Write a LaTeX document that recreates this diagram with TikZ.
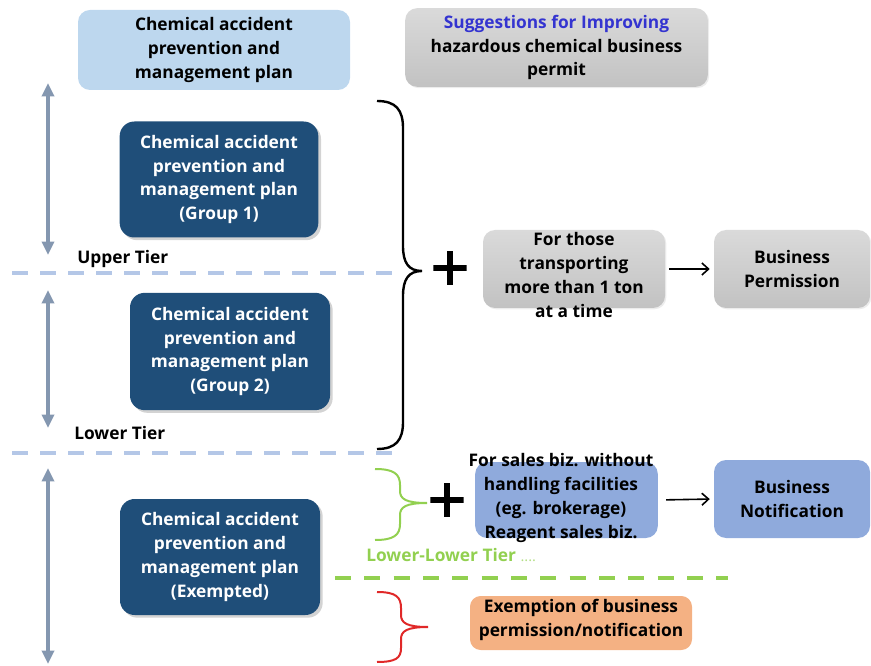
\documentclass[tikz,border=0pt]{standalone}
\usepackage{fontspec}
\setmainfont{Open Sans}
\usetikzlibrary{arrows.meta,shadows}
\definecolor{darkblue}{HTML}{1F4E79}
\definecolor{hdrblue}{HTML}{BDD7EE}
\definecolor{graytop}{HTML}{DADADA}
\definecolor{graybot}{HTML}{C2C2C2}
\definecolor{salesblue}{HTML}{8FAADC}
\definecolor{salmon}{HTML}{F4B183}
\definecolor{lgreen}{HTML}{92D050}
\definecolor{bred}{HTML}{E02828}
\definecolor{sugblue}{HTML}{3434D0}
\definecolor{tierarrow}{HTML}{8497B0}
\definecolor{dashblue}{HTML}{B4C7E7}
\begin{document}
\begin{tikzpicture}[x=0.75pt,y=-0.75pt,
  font=\bfseries\fontsize{13}{17.8}\selectfont,
  hdrbox/.style={fill=hdrblue, rounded corners=9pt, align=center, inner sep=0pt},
  graybox/.style={top color=graytop, bottom color=graybot, draw=none, rounded corners=9pt, align=center, inner sep=0pt,
     drop shadow={opacity=0.15, shadow xshift=1pt, shadow yshift=-1pt}},
  darkbox/.style={fill=darkblue, rounded corners=11pt, text=white, align=center, inner sep=0pt,
     minimum width=149pt, minimum height=87pt,
     drop shadow={opacity=0.35, shadow xshift=2pt, shadow yshift=-2pt}},
  bluebox/.style={fill=salesblue, rounded corners=9pt, align=center, inner sep=0pt},
  txt/.style={align=center, inner sep=0pt},
  tierarr/.style={draw=tierarrow, line width=2.6pt, {Triangle[length=10pt,width=9pt]}-{Triangle[length=10pt,width=9pt]}},
  tierdash/.style={draw=dashblue, line width=3pt, dash pattern=on 12pt off 9pt},
  greendash/.style={draw=lgreen, line width=3.5pt, dash pattern=on 12pt off 10pt},
  flowarr/.style={draw=black, line width=1.2pt, -{Straight Barb[length=5pt,width=9pt]}},
  plussign/.style={minimum size=25pt, inner sep=0pt,
     path picture={\draw[line width=3.8pt] (path picture bounding box.north) -- (path picture bounding box.south)
                    (path picture bounding box.west) -- (path picture bounding box.east);}}
]
\useasboundingbox (0,0) rectangle (871,666);

% headers
\node[hdrbox, minimum width=204pt, minimum height=60pt] (hplan) at (214,50)
  {Chemical accident\\prevention and\\management plan};
\node[graybox, minimum width=227pt, minimum height=59pt] (hsugg) at (556.5,47.5)
  {\textcolor{sugblue}{Suggestions for Improving}\\hazardous chemical business\\permit};

% tier arrows
\coordinate (a1t) at (48,83);  \coordinate (a1b) at (48,255);
\coordinate (a2t) at (48,290); \coordinate (a2b) at (48,428);
\coordinate (a3t) at (48,468); \coordinate (a3b) at (48,664);
\draw[tierarr] (a1t) -- (a1b);
\draw[tierarr] (a2t) -- (a2b);
\draw[tierarr] (a3t) -- (a3b);

% dashed separators
\coordinate (d1l) at (12,273); \coordinate (d1r) at (402,273);
\coordinate (d2l) at (12,453); \coordinate (d2r) at (402,453);
\draw[tierdash] (d1l) -- (d1r);
\draw[tierdash] (d2l) -- (d2r);
\coordinate (g1l) at (335,578); \coordinate (g1r) at (728,578);
\draw[greendash] (g1l) -- (g1r);

% plan boxes
\node[darkbox] (grp1) at (219,179.5) {Chemical accident\\prevention and\\management plan\\(Group 1)};
\node[darkbox, minimum width=150pt, minimum height=88pt] (grp2) at (230,351.5) {Chemical accident\\prevention and\\management plan\\(Group 2)};
\node[darkbox, minimum width=150pt] (grp3) at (220,557) {Chemical accident\\prevention and\\management plan\\(Exempted)};

% tier labels
\node[anchor=west, inner sep=0pt] (upper) at (77,259) {Upper Tier};
\node[anchor=west, inner sep=0pt] (lower) at (74,433) {Lower Tier};
\node[anchor=west, inner sep=0pt, text=lgreen] (llower) at (366,555) {Lower-Lower Tier {\fontsize{11}{11}\selectfont\mdseries\color{lgreen!70} ....}};

% braces
\coordinate (b1t) at (377,101); \coordinate (b1b) at (377,449); \coordinate (b1tip) at (422,271);
\draw[line width=1.8pt] (b1t) .. controls (396,101) and (403,110) .. (403,128) -- (403,246)
  .. controls (403,262) and (408,271) .. (b1tip) .. controls (408,271) and (403,280) .. (403,296)
  -- (403,422) .. controls (403,440) and (396,449) .. (b1b);
\coordinate (b2t) at (375,469); \coordinate (b2b) at (375,540); \coordinate (b2tip) at (427,503);
\draw[line width=1.5pt, draw=lgreen] (b2t) .. controls (394,469) and (400,474) .. (400,485) -- (400,491)
  .. controls (400,499) and (406,503) .. (b2tip) .. controls (406,503) and (400,507) .. (400,515)
  -- (400,524) .. controls (400,535) and (394,540) .. (b2b);
\coordinate (b3t) at (377,592); \coordinate (b3b) at (377,662); \coordinate (b3tip) at (428,627);
\draw[line width=1.5pt, draw=bred] (b3t) .. controls (396,592) and (401,597) .. (401,608) -- (401,615)
  .. controls (401,623) and (407,627) .. (b3tip) .. controls (407,627) and (401,631) .. (401,639)
  -- (401,648) .. controls (401,658) and (396,662) .. (b3b);

% plus signs
\node[plussign] (plus1) at (450,268) {};
\node[plussign] (plus2) at (447,500) {};

% upper/lower tier flow
\node[graybox, minimum width=136.5pt, minimum height=58.5pt] (trbox) at (574,269) {};
\node[txt] (trtext) at (574,275) {For those\\transporting\\more than 1 ton\\at a time};
\node[graybox, minimum width=117pt, minimum height=58.5pt] (perm) at (792,269) {Business\\Permission};
\draw[flowarr, shorten <=3pt, shorten >=3pt] (trbox.east) -- (perm.west);

% lower-lower tier flow
\node[bluebox, minimum width=137pt, minimum height=57pt] (sales) at (566.5,500) {};
\node[txt] (salestext) at (561,498) {For sales biz. without\\handling facilities\\(eg. brokerage)\\Reagent sales biz.};
\node[bluebox, minimum width=117pt, minimum height=58.5pt] (notif) at (792,499) {Business\\Notification};
\draw[flowarr, shorten <=6pt, shorten >=3pt] (sales.east) -- (notif.west);

% exemption
\node[fill=salmon, rounded corners=8pt, align=center, inner sep=0pt, minimum width=166.5pt, minimum height=40.5pt] (exem) at (581,623) {};
\node[txt] (exemtext) at (581,620) {Exemption of business\\permission/notification};
\end{tikzpicture}
\end{document}
